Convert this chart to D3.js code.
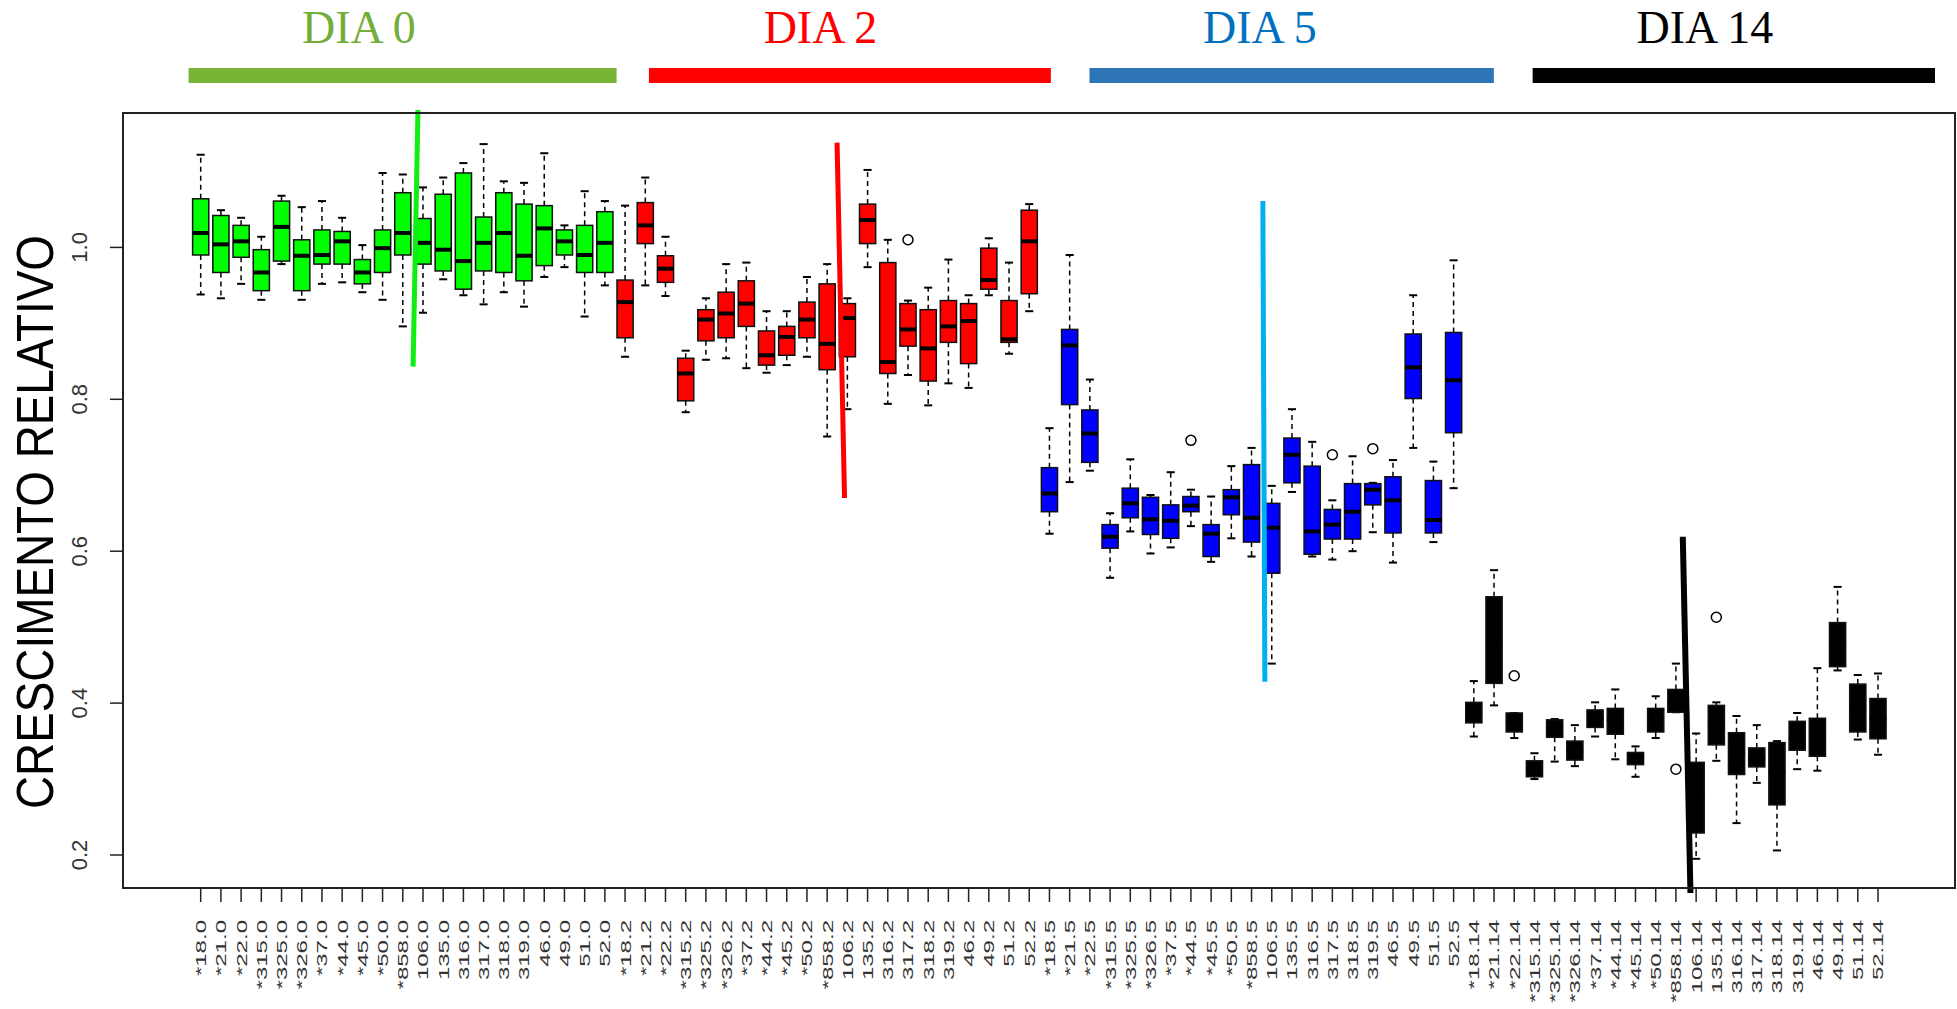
<!DOCTYPE html>
<html><head><meta charset="utf-8">
<script src="https://cdn.jsdelivr.net/npm/d3@7"></script>
<style>body{margin:0;background:#fff}svg{display:block}</style>
</head><body>
<script>
// ---------- DATA ----------
const days = ["0", "2", "5", "14"];
const dayTitles = ["DIA 0", "DIA 2", "DIA 5", "DIA 14"];
const samples = ["*18","*21","*22","*315","*325","*326","*37","*44","*45","*50","*858",
                 "106","135","316","317","318","319","46","49","51","52"];
const categories = days.flatMap(d => samples.map(s => s + "." + d));
const yTicks = [0.2, 0.4, 0.6, 0.8, 1.0];

const whiskerLow = [
 0.938,0.933,0.952,0.931,0.978,0.931,0.952,0.954,0.941,0.931,0.896,0.914,0.958,0.937,0.925,0.941,0.922,0.961,0.974,0.909,0.950,
 0.856,0.950,0.936,0.783,0.852,0.854,0.841,0.835,0.845,0.856,0.751,0.787,0.974,0.794,0.832,0.792,0.821,0.815,0.937,0.860,0.916,
 0.623,0.691,0.706,0.565,0.626,0.597,0.605,0.633,0.586,0.617,0.593,0.452,0.678,0.593,0.589,0.600,0.625,0.585,0.736,0.612,0.683,
 0.356,0.397,0.354,0.300,0.323,0.317,0.356,0.326,0.303,0.354,0.388,0.195,0.324,0.242,0.295,0.206,0.313,0.311,0.443,0.352,0.332];
const q1 = [
 0.990,0.967,0.987,0.943,0.982,0.943,0.978,0.978,0.952,0.967,0.990,0.978,0.969,0.945,0.969,0.967,0.956,0.976,0.990,0.967,0.967,
 0.881,1.005,0.954,0.798,0.877,0.881,0.896,0.845,0.858,0.881,0.839,0.856,1.005,0.834,0.870,0.824,0.875,0.847,0.945,0.875,0.939,
 0.652,0.793,0.717,0.604,0.644,0.622,0.617,0.652,0.593,0.648,0.612,0.571,0.690,0.596,0.616,0.616,0.661,0.624,0.801,0.624,0.756,
 0.374,0.426,0.362,0.303,0.355,0.325,0.368,0.359,0.319,0.362,0.388,0.229,0.345,0.306,0.316,0.266,0.338,0.330,0.448,0.362,0.353];
const median = [
 1.019,1.004,1.008,0.967,1.027,0.989,0.990,1.008,0.967,0.999,1.019,1.006,0.997,0.982,1.006,1.019,0.989,1.025,1.008,0.990,1.006,
 0.928,1.029,0.972,0.834,0.905,0.913,0.926,0.858,0.882,0.905,0.873,0.907,1.036,0.849,0.892,0.867,0.896,0.903,0.957,0.879,1.008,
 0.676,0.871,0.755,0.619,0.663,0.642,0.640,0.660,0.623,0.671,0.644,0.631,0.727,0.626,0.635,0.652,0.681,0.667,0.842,0.641,0.825,
 0.388,0.480,0.375,0.313,0.367,0.337,0.380,0.378,0.327,0.378,0.400,0.280,0.375,0.335,0.328,0.310,0.355,0.350,0.480,0.395,0.380];
const q3 = [
 1.064,1.042,1.029,0.997,1.061,1.010,1.023,1.021,0.984,1.023,1.072,1.038,1.070,1.098,1.040,1.072,1.057,1.055,1.023,1.029,1.047,
 0.957,1.059,0.989,0.854,0.918,0.941,0.956,0.890,0.896,0.928,0.952,0.926,1.057,0.980,0.926,0.918,0.930,0.926,0.999,0.930,1.049,
 0.710,0.892,0.786,0.635,0.683,0.671,0.661,0.672,0.635,0.681,0.714,0.663,0.749,0.712,0.655,0.689,0.689,0.698,0.886,0.693,0.888,
 0.401,0.540,0.387,0.324,0.378,0.350,0.391,0.393,0.335,0.393,0.418,0.322,0.397,0.361,0.341,0.348,0.376,0.380,0.506,0.425,0.406];
const whiskerHigh = [
 1.122,1.049,1.039,1.014,1.068,1.053,1.061,1.039,1.003,1.098,1.096,1.079,1.092,1.111,1.136,1.087,1.085,1.124,1.029,1.074,1.061,
 1.055,1.092,1.014,0.864,0.933,0.978,0.980,0.916,0.916,0.961,0.978,0.933,1.102,1.010,0.930,0.947,0.984,0.937,1.012,0.980,1.057,
 0.762,0.990,0.826,0.650,0.721,0.674,0.704,0.681,0.672,0.712,0.736,0.686,0.787,0.744,0.667,0.725,0.690,0.720,0.937,0.718,0.983,
 0.429,0.575,0.387,0.334,0.379,0.371,0.401,0.418,0.343,0.409,0.452,0.360,0.401,0.383,0.371,0.350,0.387,0.446,0.553,0.437,0.439];
// outliers: [category index (0-based), value]
const outliers = [[35,1.010],[49,0.746],[56,0.727],[58,0.735],[65,0.436],[73,0.313],[75,0.513]];

const boxColors = ["#00ff00", "#ff0000", "#0000ff", "#000000"];
const headerColors = ["#78b436", "#ff0000", "#2e75b6", "#000000"];
const titleColors = ["#74ad3a", "#ff0000", "#0070c0", "#000000"];
// header bar extents and title centres in category-position units
const headerBars = [[0.40, 21.58], [23.18, 43.07], [44.98, 64.99], [66.91, 86.82]];
const titlePos = [8.83, 31.67, 53.41, 75.43];
// hand-drawn marker lines: [x1, y1, x2, y2] in position / value units
const markerLines = [[11.75,1.181,11.51,0.843],[32.49,1.138,32.86,0.670],[53.56,1.061,53.66,0.428],[74.34,0.619,74.72,0.150]];
const markerColors = ["#11ee11", "#ff0000", "#00b0f0", "#000000"];

// ---------- LAYOUT ----------
const W = 1957, H = 1009;
const plot = {left: 123, right: 1955, top: 113, bottom: 888};
const x = d3.scaleLinear().domain([1, 84]).range([200.7, 1878]);
const y = d3.scaleLinear().domain([0.2, 1.0]).range([855, 247.4]);
const step = x(2) - x(1);
const boxW = step * 0.8, stapW = boxW * 0.5;

const svg = d3.select("body").append("svg").attr("width", W).attr("height", H);

// headers
const hdr = svg.append("g");
headerBars.forEach((b, i) => {
  hdr.append("rect").attr("x", x(b[0])).attr("y", 68).attr("width", x(b[1]) - x(b[0])).attr("height", 15)
     .attr("fill", headerColors[i]);
  hdr.append("text").attr("x", x(titlePos[i])).attr("y", 43).attr("text-anchor", "middle")
     .attr("font-family", "Liberation Serif, Times New Roman, serif").attr("font-size", 46)
     .attr("fill", titleColors[i]).text(dayTitles[i]);
});

// boxes
const g = svg.append("g");
categories.forEach((c, i) => {
  const cx = x(i + 1), col = boxColors[Math.floor(i / 21)];
  const dash = "5,4";
  // whiskers
  g.append("line").attr("x1", cx).attr("x2", cx).attr("y1", y(q3[i])).attr("y2", y(whiskerHigh[i]))
    .attr("stroke", "#000").attr("stroke-width", 1.5).attr("stroke-dasharray", dash);
  g.append("line").attr("x1", cx).attr("x2", cx).attr("y1", y(q1[i])).attr("y2", y(whiskerLow[i]))
    .attr("stroke", "#000").attr("stroke-width", 1.5).attr("stroke-dasharray", dash);
  // staples
  [whiskerHigh[i], whiskerLow[i]].forEach(v => {
    g.append("line").attr("x1", cx - stapW / 2).attr("x2", cx + stapW / 2).attr("y1", y(v)).attr("y2", y(v))
      .attr("stroke", "#000").attr("stroke-width", 2);
  });
  // box
  g.append("rect").attr("x", cx - boxW / 2).attr("y", y(q3[i])).attr("width", boxW)
    .attr("height", y(q1[i]) - y(q3[i])).attr("fill", col).attr("stroke", "#111").attr("stroke-width", 1.5);
  // median
  g.append("line").attr("x1", cx - boxW / 2).attr("x2", cx + boxW / 2).attr("y1", y(median[i])).attr("y2", y(median[i]))
    .attr("stroke", "#000").attr("stroke-width", 4);
});
outliers.forEach(([i, v]) => {
  g.append("circle").attr("cx", x(i + 1)).attr("cy", y(v)).attr("r", 5)
    .attr("fill", "none").attr("stroke", "#000").attr("stroke-width", 1.5);
});

// marker lines
markerLines.forEach((m, i) => {
  svg.append("line").attr("x1", x(m[0])).attr("y1", y(m[1])).attr("x2", x(m[2])).attr("y2", y(m[3]))
    .attr("stroke", markerColors[i]).attr("stroke-width", i === 3 ? 6 : 5);
});

// frame
svg.append("rect").attr("x", plot.left).attr("y", plot.top).attr("width", plot.right - plot.left)
  .attr("height", plot.bottom - plot.top).attr("fill", "none").attr("stroke", "#222").attr("stroke-width", 2);

// y axis
const ya = svg.append("g");
yTicks.forEach(t => {
  ya.append("line").attr("x1", plot.left - 13).attr("x2", plot.left).attr("y1", y(t)).attr("y2", y(t))
    .attr("stroke", "#222").attr("stroke-width", 1.5);
  ya.append("text").attr("transform", `translate(87,${y(t)}) rotate(-90)`).attr("text-anchor", "middle")
    .attr("font-family", "Liberation Sans, Arial, sans-serif").attr("font-size", 22).attr("fill", "#333")
    .text(t.toFixed(1));
});
svg.append("text").attr("transform", "translate(53,522) rotate(-90)").attr("text-anchor", "middle")
  .attr("font-family", "Liberation Sans, Arial, sans-serif").attr("font-size", 52).attr("fill", "#000")
  .attr("textLength", 574).attr("lengthAdjust", "spacingAndGlyphs")
  .text("CRESCIMENTO RELATIVO");

// x axis
const xa = svg.append("g");
categories.forEach((c, i) => {
  const cx = x(i + 1);
  xa.append("line").attr("x1", cx).attr("x2", cx).attr("y1", plot.bottom).attr("y2", plot.bottom + 14)
    .attr("stroke", "#222").attr("stroke-width", 1.5);
  xa.append("text").attr("transform", `translate(${cx},920) rotate(-90) scale(1.55,1)`)
    .attr("text-anchor", "end").attr("dy", "0.35em")
    .attr("font-family", "Liberation Sans, Arial, sans-serif").attr("font-size", 15.5).attr("fill", "#333")
    .text(c);
});
</script>
</body></html>
